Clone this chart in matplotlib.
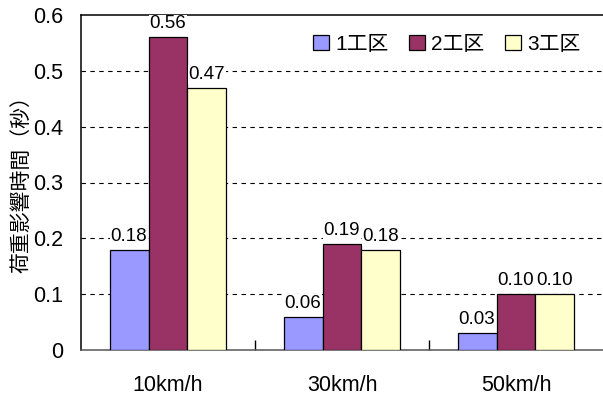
import matplotlib
matplotlib.use("Agg")
import matplotlib.pyplot as plt
import numpy as np

plt.rcParams['font.family'] = ['Liberation Sans', 'Noto Sans CJK JP', 'DejaVu Sans']

categories = ["10km/h", "30km/h", "50km/h"]
series_names = ["1工区", "2工区", "3工区"]
values_1 = [0.18, 0.06, 0.03]
values_2 = [0.56, 0.19, 0.10]
values_3 = [0.47, 0.18, 0.10]
colors = ["#9999FF", "#993366", "#FFFFCC"]
yticks = [0, 0.1, 0.2, 0.3, 0.4, 0.5, 0.6]
ytick_labels = ["0", "0.1", "0.2", "0.3", "0.4", "0.5", "0.6"]

fig = plt.figure(figsize=(6.03, 3.97), dpi=100)
ax = fig.add_axes([81/603, 47/397, 522/603, 335/397])

x = np.arange(len(categories))
w = 0.224
all_vals = [values_1, values_2, values_3]
for i, (vals, c, name) in enumerate(zip(all_vals, colors, series_names)):
    pos = x + (i - 1) * w
    ax.bar(pos, vals, width=w, color=c, edgecolor="black", linewidth=0.9,
           label=name, zorder=3)
    for p, v in zip(pos, vals):
        ax.annotate(f"{v:.2f}", (p, v), xytext=(0, 3.5), textcoords="offset points",
                    ha="center", va="bottom", fontsize=13.5, zorder=5,
                    bbox=dict(boxstyle="square,pad=0.05", facecolor="white",
                              edgecolor="none"),
                    annotation_clip=False)

ax.set_xlim(-0.5, 2.5)
ax.set_ylim(0, 0.6)
ax.set_yticks(yticks)
ax.set_yticklabels(ytick_labels, fontsize=15.5)
ax.tick_params(axis="y", length=0, pad=13)
for y in yticks[1:-1]:
    ax.axhline(y, color="black", linestyle=(0, (4, 4)), linewidth=0.8, zorder=1)

ax.set_xticks(x)
ax.set_xticklabels(categories, fontsize=15.5)
ax.tick_params(axis="x", which="major", length=0, pad=18)
ax.set_xticks([0.5, 1.5], minor=True)
ax.tick_params(axis="x", which="minor", direction="in", length=7, width=1, color="black")

ax.spines["right"].set_visible(False)
ax.spines["top"].set_color("black")
ax.spines["top"].set_zorder(2)
ax.spines["left"].set_color("black")
ax.spines["bottom"].set_color("#555555")
for s in ax.spines.values():
    s.set_linewidth(1.1)

ax.set_ylabel("荷重影響時間（秒）", fontsize=15)
ax.yaxis.set_label_coords(-0.094, 0.51)

leg = ax.legend(loc="upper right", bbox_to_anchor=(0.985, 0.985), ncol=3, frameon=False,
                fontsize=15, handlelength=0.75, handleheight=0.75, handletextpad=0.3,
                columnspacing=1.0, borderaxespad=0.3)
for h in leg.legend_handles:
    h.set_linewidth(0.9)

fig.savefig("out.png", dpi=100)
